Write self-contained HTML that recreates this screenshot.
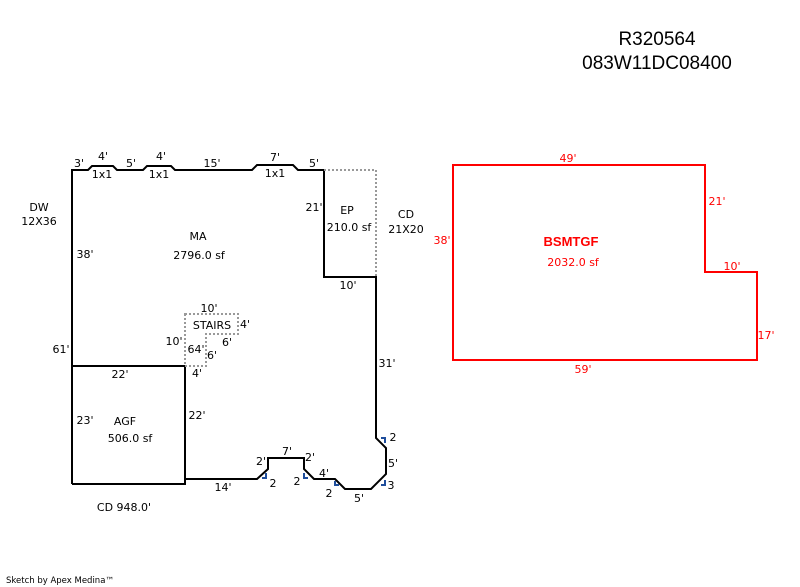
<!DOCTYPE html>
<html>
<head>
<meta charset="utf-8">
<style>
  html,body{margin:0;padding:0;background:#fff;}
  svg{display:block;}
  text{font-family:"DejaVu Sans","Liberation Sans",sans-serif;font-size:11px;fill:#000;}
  .r{fill:#f00;}
  .hdr{font-family:"Liberation Sans",sans-serif;font-size:19px;}
</style>
</head>
<body>
<svg width="800" height="587" viewBox="0 0 800 587" xmlns="http://www.w3.org/2000/svg">
  <rect width="800" height="587" fill="#fff"/>

  <!-- header -->
  <text class="hdr" x="657" y="45" text-anchor="middle">R320564</text>
  <text class="hdr" x="657" y="69" text-anchor="middle">083W11DC08400</text>

  <!-- main outline -->
  <path d="M72,484 L72,170 L88,170 L92,166 L113,166 L117,170 L143,170 L147,166 L171,166 L175,170 L252,170 L257,165 L293,165 L298,170 L324,170 L324,277 L376,277 L376,438 L386,448 L386,474 L371,489 L345,489 L335,479 L314,479 L304,469 L304,458 L268,458 L268,469 L257,479 L185,479"
        fill="none" stroke="#000" stroke-width="2" stroke-linejoin="miter"/>
  <!-- AGF box -->
  <path d="M72,366 L185,366 L185,484 L72,484" fill="none" stroke="#000" stroke-width="2"/>

  <!-- EP dotted -->
  <path d="M324,170 L376,170 L376,277" fill="none" stroke="#999" stroke-width="2" stroke-dasharray="2,2"/>
  <!-- stairs dotted -->
  <path d="M185,314 L238,314 L238,334 L206,334 L206,366 L185,366 Z" fill="none" stroke="#999" stroke-width="2" stroke-dasharray="2,2"/>

  <!-- blue angle marks -->
  <g fill="none" stroke="#1f4e9c" stroke-width="2">
    <path d="M262,478 L266,478 L266,473"/>
    <path d="M304,473 L304,478 L308,478"/>
    <path d="M381,438 L385,438 L385,443"/>
    <path d="M381,485 L385,485 L385,480"/>
    <path d="M335,481 L335,485 L339,485"/>
  </g>

  <!-- top labels -->
  <text x="79" y="167" text-anchor="middle">3'</text>
  <text x="103" y="160" text-anchor="middle">4'</text>
  <text x="102" y="178" text-anchor="middle">1x1</text>
  <text x="131" y="167" text-anchor="middle">5'</text>
  <text x="161" y="160" text-anchor="middle">4'</text>
  <text x="159" y="178" text-anchor="middle">1x1</text>
  <text x="212" y="167" text-anchor="middle">15'</text>
  <text x="275" y="161" text-anchor="middle">7'</text>
  <text x="275" y="177" text-anchor="middle">1x1</text>
  <text x="314" y="167" text-anchor="middle">5'</text>

  <text x="39" y="211" text-anchor="middle">DW</text>
  <text x="39" y="225" text-anchor="middle">12X36</text>
  <text x="85" y="258" text-anchor="middle">38'</text>
  <text x="198" y="240" text-anchor="middle">MA</text>
  <text x="199" y="259" text-anchor="middle">2796.0 sf</text>
  <text x="314" y="211" text-anchor="middle">21'</text>
  <text x="347" y="214" text-anchor="middle">EP</text>
  <text x="349" y="231" text-anchor="middle">210.0 sf</text>
  <text x="406" y="218" text-anchor="middle">CD</text>
  <text x="406" y="233" text-anchor="middle">21X20</text>
  <text x="348" y="289" text-anchor="middle">10'</text>

  <!-- stairs labels -->
  <text x="209" y="312" text-anchor="middle">10'</text>
  <text x="212" y="329" text-anchor="middle">STAIRS</text>
  <text x="245" y="328" text-anchor="middle">4'</text>
  <text x="227" y="346" text-anchor="middle">6'</text>
  <text x="174" y="345" text-anchor="middle">10'</text>
  <text x="196" y="353" text-anchor="middle">64'</text>
  <text x="212" y="359" text-anchor="middle">6'</text>
  <text x="197" y="377" text-anchor="middle">4'</text>

  <text x="61" y="353" text-anchor="middle">61'</text>
  <text x="120" y="378" text-anchor="middle">22'</text>
  <text x="85" y="424" text-anchor="middle">23'</text>
  <text x="125" y="425" text-anchor="middle">AGF</text>
  <text x="130" y="442" text-anchor="middle">506.0 sf</text>
  <text x="197" y="419" text-anchor="middle">22'</text>
  <text x="387" y="367" text-anchor="middle">31'</text>
  <text x="223" y="491" text-anchor="middle">14'</text>
  <text x="124" y="511" text-anchor="middle">CD 948.0'</text>

  <!-- bottom right labels -->
  <text x="261" y="465" text-anchor="middle">2'</text>
  <text x="287" y="455" text-anchor="middle">7'</text>
  <text x="310" y="461" text-anchor="middle">2'</text>
  <text x="273" y="487" text-anchor="middle">2</text>
  <text x="297" y="485" text-anchor="middle">2</text>
  <text x="324" y="477" text-anchor="middle">4'</text>
  <text x="329" y="497" text-anchor="middle">2</text>
  <text x="359" y="502" text-anchor="middle">5'</text>
  <text x="391" y="489" text-anchor="middle">3</text>
  <text x="393" y="467" text-anchor="middle">5'</text>
  <text x="393" y="441" text-anchor="middle">2</text>

  <!-- BSMTGF red -->
  <path d="M453,165 L705,165 L705,272 L757,272 L757,360 L453,360 Z" fill="none" stroke="#f00" stroke-width="2"/>
  <text class="r" x="568" y="162" text-anchor="middle">49'</text>
  <text class="r" x="717" y="205" text-anchor="middle">21'</text>
  <text class="r" x="442" y="244" text-anchor="middle">38'</text>
  <text class="r" x="571" y="246" text-anchor="middle" style="font-family:'Liberation Sans',sans-serif;font-weight:bold;font-size:13px;">BSMTGF</text>
  <text class="r" x="573" y="266" text-anchor="middle">2032.0 sf</text>
  <text class="r" x="732" y="270" text-anchor="middle">10'</text>
  <text class="r" x="766" y="339" text-anchor="middle">17'</text>
  <text class="r" x="583" y="373" text-anchor="middle">59'</text>

  <!-- footer -->
  <text x="6" y="583" style="font-size:8.5px;">Sketch by Apex Medina™</text>
</svg>
</body>
</html>
